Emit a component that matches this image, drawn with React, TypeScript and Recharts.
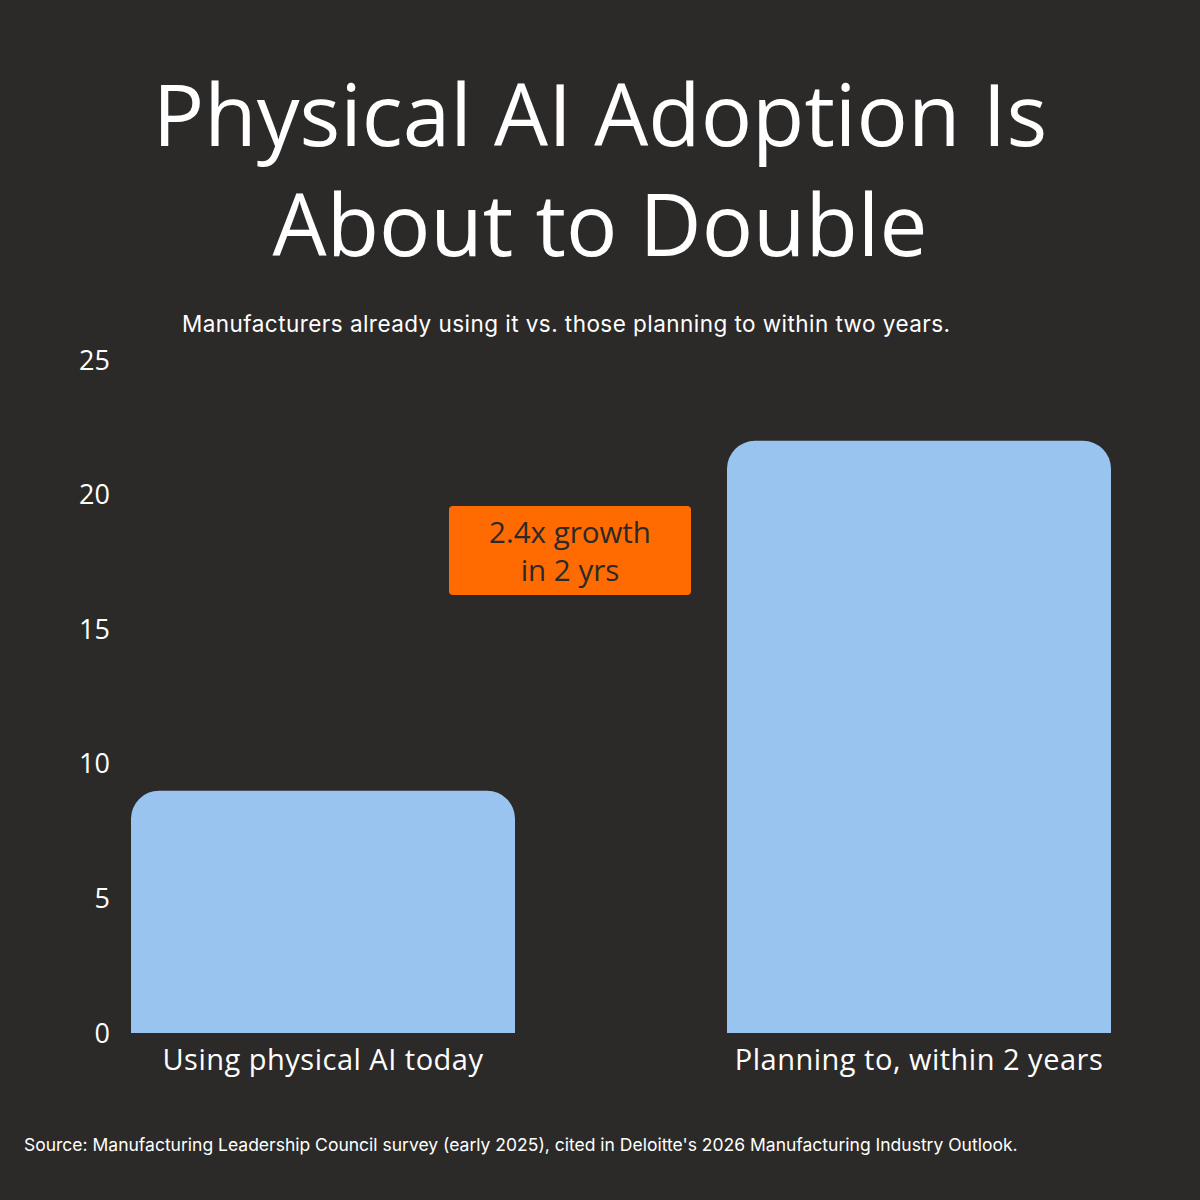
import { BarChart, Bar, XAxis, YAxis, Cell } from "recharts";

const categories = ["Using physical AI today", "Planning to, within 2 years"];
const adoptionPct = [9, 22];
const yTicks = [0, 5, 10, 15, 20, 25];

const data = categories.map((name, i) => ({ name, value: adoptionPct[i] }));

const BG = "#2c2a29";
const BAR = "#9ac4f0";
const ORANGE = "#ff6b00";
const HEAD = "'Open Sans', sans-serif";
const BODY = "Inter, sans-serif";

export default function App() {
  return (
    <div style={{ position: "absolute", left: 0, top: 0, width: 1200, height: 1200, background: BG, overflow: "hidden" }}>
      <div style={{ position: "absolute", top: 58, left: 0, width: 1200, textAlign: "center", color: "#fff", fontFamily: HEAD, fontSize: 85.5, lineHeight: "110px" }}>
        Physical AI Adoption Is
        <br />
        About to Double
      </div>
      <div style={{ position: "absolute", top: 310, left: 182, color: "#fff", fontFamily: BODY, fontSize: 22.5, letterSpacing: 0.45 }}>
        Manufacturers already using it vs. those planning to within two years.
      </div>

      <div style={{ position: "absolute", left: 0, top: 0 }}>
        <BarChart width={1200} height={1200} data={data} margin={{ top: 360, right: 0, bottom: 107, left: 0 }}>
          <XAxis
            dataKey="name"
            axisLine={false}
            tickLine={false}
            tickSize={0}
            tickMargin={16}
            height={60}
            padding={{ left: -90, right: -17 }}
            tick={{ fill: "#fff", fontSize: 29, fontFamily: HEAD, letterSpacing: 0.5 }}
          />
          <YAxis
            domain={[0, 25]}
            ticks={yTicks}
            axisLine={false}
            tickLine={false}
            tickSize={0}
            tickMargin={5}
            width={115}
            tick={{ fill: "#fff", fontSize: 27, fontFamily: HEAD }}
          />
          <Bar dataKey="value" barSize={384} radius={[28, 28, 0, 0]} isAnimationActive={false}>
            {data.map((d) => (
              <Cell key={d.name} fill={BAR} />
            ))}
          </Bar>
        </BarChart>
      </div>

      <div style={{ position: "absolute", left: 449, top: 506, width: 242, height: 89, background: ORANGE, borderRadius: 4, color: BG, fontFamily: HEAD, fontSize: 29.5, lineHeight: "38px", textAlign: "center", display: "flex", alignItems: "center", justifyContent: "center" }}>
        <div>
          2.4x growth
          <br />
          in 2 yrs
        </div>
      </div>

      <div style={{ position: "absolute", top: 1134, left: 24, color: "#fff", fontFamily: BODY, fontSize: 17.5 }}>
        Source: Manufacturing Leadership Council survey (early 2025), cited in Deloitte's 2026 Manufacturing Industry Outlook.
      </div>
    </div>
  );
}
